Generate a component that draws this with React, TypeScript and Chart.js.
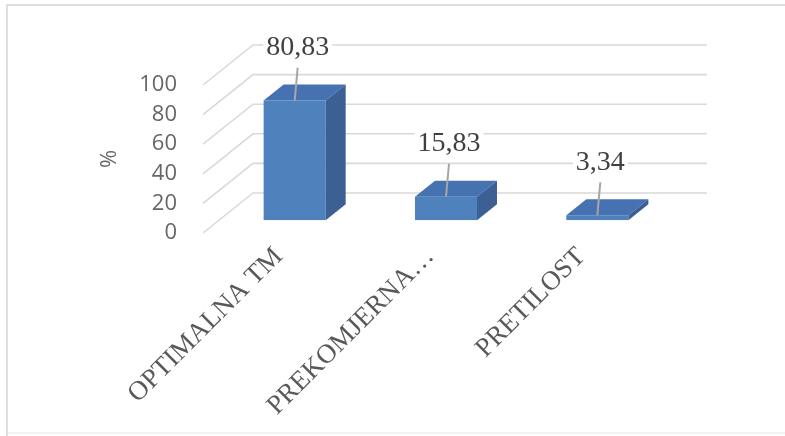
import React, { useEffect, useRef } from "react";
import { Chart, registerables } from "chart.js";

Chart.register(...registerables);

const categories = ["OPTIMALNA TM", "PREKOMJERNA…", "PRETILOST"];
const values = [80.83, 15.83, 3.34];
const valueLabels = ["80,83", "15,83", "3,34"];
const yMin = 0;
const yMax = 100;
const yStep = 20;

const W = 785;
const H = 436;
const DEPTH_X = 50;
const DEPTH_Y = -40;
const BAR_FRONT = 0.32;
const BAR_BACK = 0.72;
const FRONT_COLOR = "#4F81BD";
const TOP_COLOR = "#4672B2";
const SIDE_COLOR = "#3C5F94";

const excel3d = {
  id: "excel3d",
  beforeDraw(chart: any) {
    const ctx = chart.ctx;
    ctx.save();
    ctx.fillStyle = "#ffffff";
    ctx.fillRect(0, 0, W, H);
    ctx.strokeStyle = "#dedede";
    ctx.lineWidth = 2;
    ctx.beginPath();
    ctx.moveTo(7, H);
    ctx.lineTo(7, 5);
    ctx.lineTo(W, 5);
    ctx.stroke();
    ctx.strokeStyle = "#f2f2f2";
    ctx.beginPath();
    ctx.moveTo(8, 433);
    ctx.lineTo(W, 433);
    ctx.stroke();
    ctx.restore();
  },
  beforeDatasetsDraw(chart: any) {
    const { ctx, chartArea, scales } = chart;
    const y = scales.y;
    ctx.save();
    ctx.strokeStyle = "#d9d9d9";
    ctx.lineWidth = 1.6;
    for (const t of y.ticks) {
      const py = y.getPixelForValue(t.value);
      ctx.beginPath();
      ctx.moveTo(chartArea.left, py);
      ctx.lineTo(chartArea.left + DEPTH_X, py + DEPTH_Y);
      ctx.lineTo(chartArea.right + DEPTH_X, py + DEPTH_Y);
      ctx.stroke();
    }
    ctx.restore();
    ctx.save();
    ctx.translate(DEPTH_X * BAR_FRONT, DEPTH_Y * BAR_FRONT);
  },
  afterDatasetsDraw(chart: any) {
    const ctx = chart.ctx;
    ctx.restore();
    const meta = chart.getDatasetMeta(0);
    const fx = DEPTH_X * BAR_FRONT;
    const fy = DEPTH_Y * BAR_FRONT;
    const dx = DEPTH_X * (BAR_BACK - BAR_FRONT);
    const dy = DEPTH_Y * (BAR_BACK - BAR_FRONT);
    ctx.save();
    meta.data.forEach((el: any, i: number) => {
      const { x, y, base, width } = el.getProps(["x", "y", "base", "width"], true);
      const x0 = x - width / 2 + fx;
      const x1 = x + width / 2 + fx;
      const yt = y + fy;
      const yb = base + fy;
      ctx.fillStyle = TOP_COLOR;
      ctx.beginPath();
      ctx.moveTo(x0, yt);
      ctx.lineTo(x1, yt);
      ctx.lineTo(x1 + dx, yt + dy);
      ctx.lineTo(x0 + dx, yt + dy);
      ctx.closePath();
      ctx.fill();
      ctx.fillStyle = SIDE_COLOR;
      ctx.beginPath();
      ctx.moveTo(x1, yt);
      ctx.lineTo(x1 + dx, yt + dy);
      ctx.lineTo(x1 + dx, yb + dy);
      ctx.lineTo(x1, yb);
      ctx.closePath();
      ctx.fill();

      // data label with leader line
      const ax = x + fx;
      const lx = ax + 3;
      const ly = yt - 53;
      ctx.font = "28px 'Liberation Serif'";
      const tw = ctx.measureText(valueLabels[i]).width;
      ctx.fillStyle = "#ffffff";
      ctx.fillRect(lx - tw / 2 - 3, ly - 15, tw + 6, 30);
      ctx.fillStyle = "#404040";
      ctx.textAlign = "center";
      ctx.textBaseline = "middle";
      ctx.fillText(valueLabels[i], lx, ly);
      ctx.strokeStyle = "#a6a6a6";
      ctx.lineWidth = 2;
      ctx.beginPath();
      ctx.moveTo(lx, ly + 20);
      ctx.lineTo(ax, yt);
      ctx.stroke();
    });
    ctx.restore();
  },
};

export default function App() {
  const ref = useRef<HTMLCanvasElement>(null);
  useEffect(() => {
    document.body.style.margin = "0";
    const chart = new Chart(ref.current as HTMLCanvasElement, {
      type: "bar",
      data: {
        labels: categories,
        datasets: [
          {
            data: values,
            backgroundColor: FRONT_COLOR,
            borderWidth: 0,
            barPercentage: 0.41,
            categoryPercentage: 1,
          },
        ],
      },
      options: {
        responsive: false,
        animation: false,
        devicePixelRatio: 1,
        layout: { padding: { left: 0, top: 85, right: 128, bottom: 0 } },
        plugins: { legend: { display: false }, tooltip: { enabled: false } },
        scales: {
          x: {
            grid: { display: false, drawTicks: false, tickLength: 0 },
            border: { display: false },
            ticks: {
              minRotation: 45,
              maxRotation: 45,
              autoSkip: false,
              padding: 8,
              color: "#595959",
              font: { family: "'Liberation Serif'", size: 27 },
            },
            afterFit: (s: any) => {
              s.height = 203;
            },
          },
          y: {
            min: yMin,
            max: yMax,
            grid: { display: false, drawTicks: false, tickLength: 0 },
            border: { display: false },
            ticks: {
              stepSize: yStep,
              padding: 26,
              color: "#666666",
              font: { family: "'Open Sans'", size: 22 },
            },
            title: {
              display: true,
              text: "%",
              color: "#666666",
              font: { family: "'Open Sans'", size: 22 },
              padding: { top: 97, bottom: 0 },
            },
            afterFit: (s: any) => {
              s.width = 203;
            },
          },
        },
      },
      plugins: [excel3d],
    });
    return () => chart.destroy();
  }, []);
  return (
    <div style={{ position: "absolute", left: 0, top: 0, width: W, height: H }}>
      <canvas ref={ref} width={W} height={H} style={{ width: W, height: H }} />
    </div>
  );
}
